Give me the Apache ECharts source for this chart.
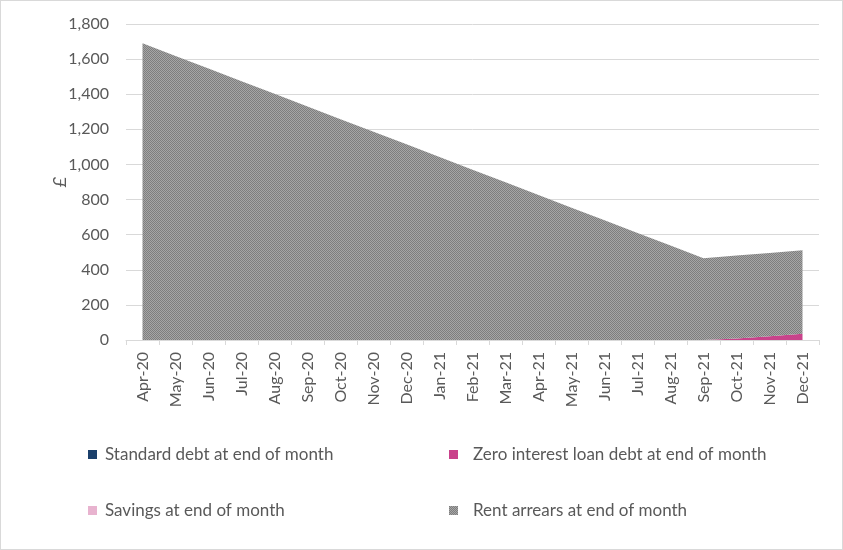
<!DOCTYPE html>
<html>
<head>
<meta charset="utf-8">
<script src="https://cdn.jsdelivr.net/npm/echarts@6/dist/echarts.min.js"></script>
<style>
  html, body { margin: 0; padding: 0; background: #fff; }
  #chart { width: 841px; height: 548px; border: 1px solid #d9d9d9; }
</style>
</head>
<body>
<div id="chart"></div>
<script>
const months = ['Apr-20', 'May-20', 'Jun-20', 'Jul-20', 'Aug-20', 'Sep-20', 'Oct-20', 'Nov-20', 'Dec-20',
  'Jan-21', 'Feb-21', 'Mar-21', 'Apr-21', 'May-21', 'Jun-21', 'Jul-21', 'Aug-21', 'Sep-21',
  'Oct-21', 'Nov-21', 'Dec-21']

const standardDebt = [0, 0, 0, 0, 0, 0, 0, 0, 0, 0, 0, 0, 0, 0, 0, 0, 0, 0, 0, 0, 0]
const zeroLoanDebt = [0, 0, 0, 0, 0, 0, 0, 0, 0, 0, 0, 0, 0, 0, 0, 0, 0, 0, 8, 22, 36]
const savings = [0, 0, 0, 0, 0, 0, 0, 0, 0, 0, 0, 0, 0, 0, 0, 0, 0, 0, 0, 0, 0]
const rentArrears = [1690, 1618, 1546, 1474, 1402, 1330, 1258, 1186, 1115, 1042, 970, 898,
  826, 754, 682, 610, 538, 466, 473, 474, 475]

const yTicks = [0, 200, 400, 600, 800, 1000, 1200, 1400, 1600, 1800]

// dithered grey like the excel fill
const makePattern = () => {
  const c = document.createElement('canvas')
  c.width = 2
  c.height = 2
  const ctx = c.getContext('2d')
  ctx.fillStyle = '#a6a6a6'
  ctx.fillRect(0, 0, 2, 2)
  ctx.fillStyle = '#7e7e7e'
  ctx.fillRect(0, 0, 1, 1)
  ctx.fillRect(1, 1, 1, 1)
  return c
}
const greyPattern = { image: makePattern(), repeat: 'repeat' }

const textColor = '#595959'
const font = 'Lato'

const chart = echarts.init(document.getElementById('chart'))

const areaSeries = (name, data, color) => ({
  name,
  type: 'line',
  stack: 'total',
  symbol: 'none',
  lineStyle: { width: 0 },
  itemStyle: { color },
  areaStyle: { color, opacity: 1 },
  data
})

const legendBase = {
  orient: 'vertical',
  icon: 'rect',
  itemWidth: 9,
  itemHeight: 9,
  itemGap: 39,
  selectedMode: false,
  textStyle: { color: textColor, fontFamily: font, fontSize: 17, padding: [0, 0, 0, 3] }
}

chart.setOption({
  animation: false,
  grid: { left: 125, right: 23, top: 23, bottom: 209 },
  xAxis: {
    type: 'category',
    boundaryGap: true,
    data: months,
    axisLine: { lineStyle: { color: '#d9d9d9', width: 1 } },
    axisTick: { show: true, length: 5, lineStyle: { color: '#d9d9d9' } },
    axisLabel: { rotate: 90, color: textColor, fontFamily: font, fontSize: 16, margin: 12, interval: 0 }
  },
  yAxis: {
    type: 'value',
    min: yTicks[0],
    max: yTicks[yTicks.length - 1],
    interval: 200,
    name: '£',
    nameLocation: 'middle',
    nameGap: 57,
    nameRotate: 90,
    nameMoveOverlap: false,
    nameTextStyle: { color: textColor, fontFamily: font, fontSize: 18, fontStyle: 'italic' },
    axisLine: { show: false },
    axisTick: { show: false },
    splitLine: { lineStyle: { color: '#d9d9d9', width: 1 } },
    axisLabel: {
      color: textColor,
      fontFamily: font,
      fontSize: 16,
      margin: 17,
      formatter: v => v.toLocaleString('en-GB')
    }
  },
  legend: [
    Object.assign({}, legendBase, { left: 82, top: 440, data: ['Standard debt at end of month', 'Savings at end of month'] }),
    Object.assign({}, legendBase, { left: 443, top: 440, textStyle: Object.assign({}, legendBase.textStyle, { padding: [0, 0, 0, 10] }), data: ['Zero interest loan debt at end of month', 'Rent arrears at end of month'] })
  ],
  series: [
    areaSeries('Standard debt at end of month', standardDebt, '#1b406b'),
    areaSeries('Zero interest loan debt at end of month', zeroLoanDebt, '#c9428b'),
    areaSeries('Savings at end of month', savings, '#e8b3cf'),
    areaSeries('Rent arrears at end of month', rentArrears, greyPattern)
  ]
})
</script>
</body>
</html>
